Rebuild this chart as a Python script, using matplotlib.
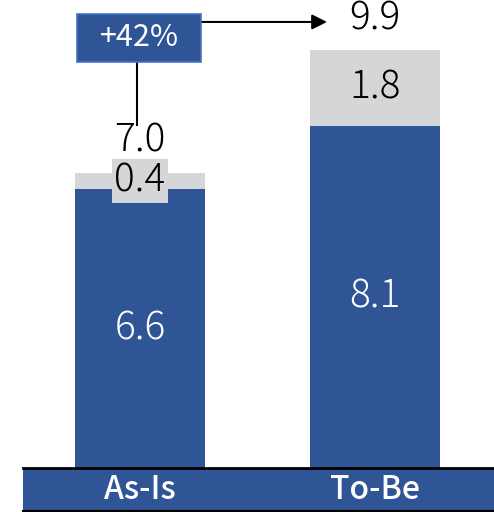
import matplotlib.pyplot as plt
from matplotlib.patches import Rectangle

plt.rcParams['font.family'] = ['Noto Sans CJK JP', 'DejaVu Sans']

categories = ['As-Is', 'To-Be']
base = [6.6, 8.1]
extra = [0.4, 1.8]
totals = [7.0, 9.9]
growth_label = '+42%'

BLUE = '#2F5597'
GRAY = '#D5D6D8'
EDGE = '#4472C4'
NUM_FS = 28

W, H = 494, 512
fig = plt.figure(figsize=(W / 100, H / 100), dpi=100)
base_px = 468
ax = fig.add_axes([0, (H - base_px) / H, 1, base_px / H])
px_per_unit = 42.2
ax.set_ylim(0, base_px / px_per_unit)
x_unit = 235.0
ax.set_xlim(-140 / x_unit, (W - 140) / x_unit)
ax.axis('off')

x = list(range(len(categories)))
bw = 130 / x_unit
ax.bar(x, base, width=bw, color=BLUE, zorder=2)
ax.bar(x, extra, bottom=base, width=bw, color=GRAY, zorder=2)

for i in x:
    ax.text(i, base[i] / 2, f'{base[i]:.1f}', ha='center', va='center',
            color='white', fontsize=NUM_FS, fontweight='light', zorder=3)
    box = None
    if extra[i] < 1:
        box = dict(boxstyle='square,pad=0.05', fc=GRAY, ec='none')
    ax.text(i, base[i] + extra[i] / 2, f'{extra[i]:.1f}', ha='center', va='center',
            color='black', fontsize=NUM_FS, fontweight='light', zorder=3, bbox=box)
    ax.text(i, totals[i] + 0.75, f'{totals[i]:.1f}', ha='center', va='center',
            color='black', fontsize=NUM_FS, fontweight='light', zorder=3)

# growth box with bracket arrow
bx0, bx1 = -63 / x_unit, 61 / x_unit
by0 = (base_px - 62) / px_per_unit
by1 = (base_px - 14) / px_per_unit
ax.add_patch(Rectangle((bx0, by0), bx1 - bx0, by1 - by0, fc=BLUE, ec=EDGE,
                       lw=1.2, clip_on=False, zorder=4))
ax.text((bx0 + bx1) / 2, (by0 + by1) / 2, growth_label, ha='center', va='center',
        color='white', fontsize=22, zorder=5)
ax.plot([-3 / x_unit, -3 / x_unit], [by0, totals[0] + 1.12], color='black', lw=1.5,
        clip_on=False, zorder=3)
ay = totals[1] + 0.67
ax.annotate('', xy=(1 - 48 / x_unit, ay), xytext=(bx1, ay),
            arrowprops=dict(arrowstyle='-|>,head_length=0.9,head_width=0.45',
                            color='black', lw=1.5, shrinkA=0, shrinkB=0),
            annotation_clip=False)

# category band
fig.patches.append(Rectangle((23 / W, 2 / H), 1 - 23 / W, 42 / H, transform=fig.transFigure,
                             fc=BLUE, ec='none', zorder=1))
fig.add_artist(plt.Line2D([23 / W, 1], [44 / H, 44 / H], transform=fig.transFigure,
                          color='black', lw=2))
fig.add_artist(plt.Line2D([23 / W, 1], [1 / H, 1 / H], transform=fig.transFigure,
                          color='black', lw=1.5))
for i, c in enumerate(categories):
    px = 140 + i * x_unit
    fig.text(px / W, 22 / H, c, ha='center', va='center', color='white',
             fontsize=23, fontweight='medium')

fig.savefig('out.png', dpi=100)
